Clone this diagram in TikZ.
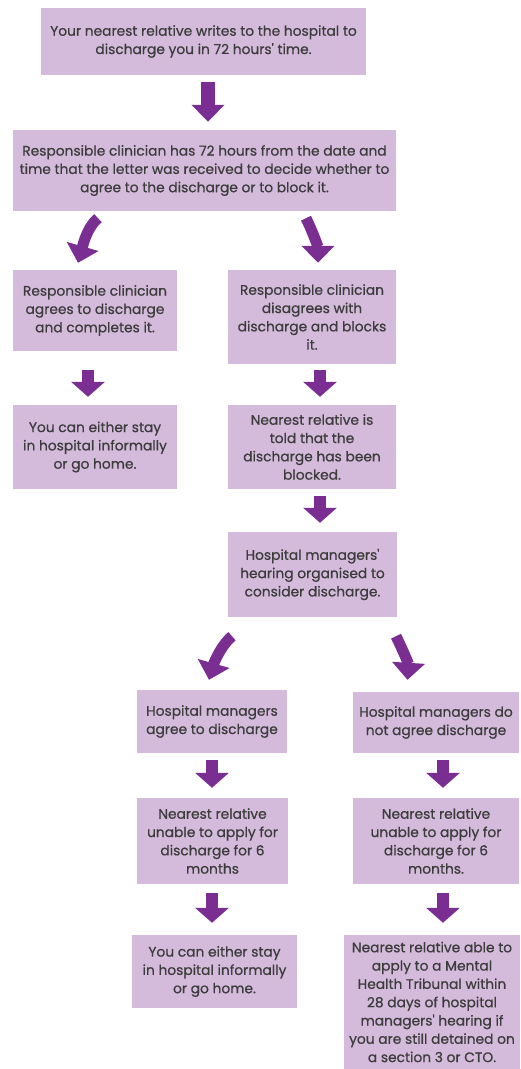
\documentclass[tikz,border=0pt]{standalone}
\usepackage{fontspec}
\setmainfont{Poppins}
\newfontfamily\boxfont{Poppins}[FakeBold=0.7]
\usetikzlibrary{arrows.meta}

\definecolor{boxpurple}{HTML}{D5BBDB}
\definecolor{arrowpurple}{HTML}{7A2E91}
\definecolor{textgray}{HTML}{3C3C3C}

\begin{document}
\begin{tikzpicture}[
            x = 1pt, y = -1pt,
            box/.style = {
                fill = boxpurple,
                inner sep = 0pt,
                align = center,
                text = textgray,
                font = \boxfont\fontsize{13.8}{18.3}\selectfont,
            },
            fatarrow/.style = {
                draw = arrowpurple,
                line width = 12pt,
                -{Triangle[width = 33pt, length = 15pt]},
            },
            bendarrow/.style = {
                draw = arrowpurple,
                line width = 11pt,
                -{Triangle[width = 32pt, length = 17pt]},
            },
        ]
        \useasboundingbox (0,0) rectangle (520,1069);

        % Boxes
        \node[box, minimum width = 325pt, minimum height = 67pt] (write) at (203.5,41.5)
            {Your nearest relative writes to the hospital to \\ discharge you in 72 hours' time.};
        \node[box, minimum width = 383pt, minimum height = 81pt] (clinician) at (204.5,170.5)
            {Responsible clinician has 72 hours from the date and \\ time that the letter was received to decide whether to \\ agree to the discharge or to block it.};
        \node[box, minimum width = 164pt, minimum height = 81pt] (agree) at (95,310.5)
            {Responsible clinician \\ agrees to discharge \\ and completes it.};
        \node[box, minimum width = 168pt, minimum height = 94pt] (block) at (312,317)
            {Responsible clinician \\ disagrees with \\ discharge and blocks \\ it.};
        \node[box, minimum width = 164pt, minimum height = 84pt] (stayA) at (95,447)
            {You can either stay \\ in hospital informally \\ or go home.};
        \node[box, minimum width = 168pt, minimum height = 84pt] (told) at (312,447)
            {Nearest relative is \\ told that the \\ discharge has been \\ blocked.};
        \node[box, minimum width = 169pt, minimum height = 85pt] (hearing) at (312.5,574.5)
            {Hospital managers' \\ hearing organised to \\ consider discharge.};
        \node[box, minimum width = 150pt, minimum height = 63pt] (mgrA) at (212,721.5)
            {Hospital managers \\ agree to discharge};
        \node[box, minimum width = 166pt, minimum height = 61pt] (mgrB) at (436,722.5)
            {Hospital managers do \\ not agree discharge};
        \node[box, minimum width = 151pt, minimum height = 86pt] (unableA) at (212.5,841)
            {Nearest relative \\ unable to apply for \\ discharge for 6 \\ months};
        \node[box, minimum width = 166pt, minimum height = 86pt] (unableB) at (436,841)
            {Nearest relative \\ unable to apply for \\ discharge for 6 \\ months.};
        \node[box, minimum width = 165pt, minimum height = 73pt] (stayB) at (214.5,971.5)
            {You can either stay \\ in hospital informally \\ or go home.};
        \node[box, minimum width = 176pt, minimum height = 134pt] (able) at (432,1002)
            {Nearest relative able to \\ apply to a Mental \\ Health Tribunal within \\ 28 days of hospital \\ managers' hearing if \\ you are still detained on \\ a section 3 or CTO.};

        % Straight arrows
        \draw[fatarrow, line width = 14pt, -{Triangle[width = 32pt, length = 17pt]}]
            ([xshift = 4.5pt, yshift = -7pt]write.south) -- ([xshift = 3.5pt, yshift = 8pt]clinician.north);
        \draw[fatarrow] ([xshift = -7pt, yshift = -19pt]agree.south) -- ([xshift = -7pt, yshift = 8pt]stayA.north);
        \draw[fatarrow] ([xshift = 8pt, yshift = -6pt]block.south) -- ([xshift = 8pt, yshift = 8pt]told.north);
        \draw[fatarrow] ([xshift = 8pt, yshift = -7pt]told.south) -- ([xshift = 7.5pt, yshift = 9pt]hearing.north);
        \draw[fatarrow] ([yshift = -7pt]mgrA.south) -- ([xshift = -0.5pt, yshift = 10pt]unableA.north);
        \draw[fatarrow] ([xshift = 7pt, yshift = -7pt]mgrB.south) -- ([xshift = 7pt, yshift = 10pt]unableB.north);
        \draw[fatarrow] ([xshift = -0.5pt, yshift = -9pt]unableA.south) -- ([xshift = -2.5pt, yshift = 12pt]stayB.north);
        \draw[fatarrow] ([xshift = 7pt, yshift = -9pt]unableB.south) -- ([xshift = 11pt, yshift = 12pt]able.north);

        % Curved arrows
        \draw[bendarrow] ([xshift = -106.5pt, yshift = -7pt]clinician.south)
            .. controls +(-12,10) and +(4,-14) .. ([xshift = -17pt, yshift = 7pt]agree.north);
        \draw[bendarrow] ([xshift = 101.5pt, yshift = -7pt]clinician.south)
            .. controls +(6,12) and +(0,-16) .. ([xshift = 6pt, yshift = 7pt]block.north);
        \draw[bendarrow] ([xshift = -80.5pt, yshift = -19pt]hearing.south)
            .. controls +(-12,10) and +(4,-14) .. ([xshift = -3pt, yshift = 10pt]mgrA.north);
        \draw[bendarrow] ([xshift = 83.5pt, yshift = -19pt]hearing.south)
            .. controls +(6,12) and +(1,-16) .. ([xshift = -28.5pt, yshift = 12pt]mgrB.north);

    \end{tikzpicture}
\end{document}
